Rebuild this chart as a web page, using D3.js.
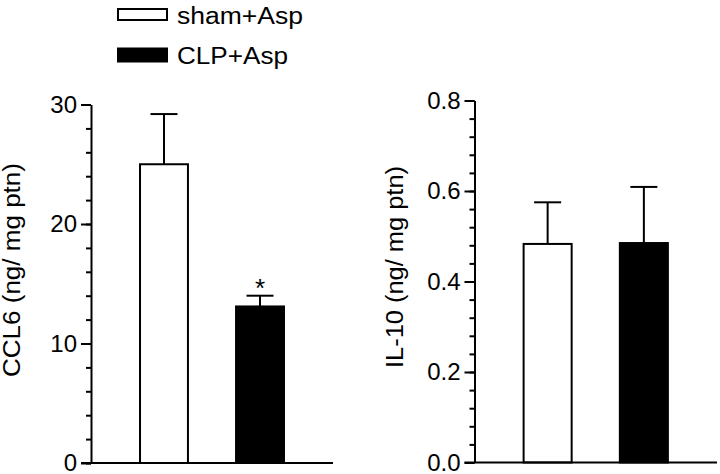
<!DOCTYPE html>
<html>
<head>
<meta charset="utf-8">
<script src="https://cdn.jsdelivr.net/npm/d3@7"></script>
<style>
  body { margin: 0; background: #fff; }
  svg { display: block; font-family: "Liberation Sans", Arial, Helvetica, sans-serif; }
</style>
</head>
<body>
<script>
// groups and values
const groups = ['sham+Asp', 'CLP+Asp'];
const fills = ['#fff', '#000'];

const ccl6Mean = [25.0, 13.1];
const ccl6Err = [4.2, 0.9];
const ccl6Ticks = [0, 10, 20, 30];
const ccl6Sig = ['', '*'];

const il10Mean = [0.483, 0.485];
const il10Err = [0.092, 0.124];
const il10Ticks = [0.0, 0.2, 0.4, 0.6, 0.8];

const width = 720, height = 474;

const svg = d3.select('body').append('svg')
    .attr('width', width)
    .attr('height', height)
    .attr('viewBox', [0, 0, width, height]);

// draws one panel: bars, error bars, axes
const panel = ({ means, errs, ticks, minorStep, fmt, xRange, yRange, label, labelX, labelY, labelLen, sig = [] }) => {
    const x = d3.scaleBand(groups, xRange).paddingInner(0.48).paddingOuter(0.5);
    const y = d3.scaleLinear([ticks[0], ticks[ticks.length - 1]], yRange);
    const data = groups.map((g, i) => ({ g, i, mean: means[i], err: errs[i] }));
    const g = svg.append('g');

    // error bars (drawn first, bars cover the lower part)
    const eb = g.append('g').attr('stroke', '#000').attr('stroke-width', 2);
    eb.selectAll('line.v').data(data).join('line')
        .attr('class', 'v')
        .attr('x1', d => x(d.g) + x.bandwidth() / 2)
        .attr('x2', d => x(d.g) + x.bandwidth() / 2)
        .attr('y1', d => y(d.mean))
        .attr('y2', d => y(d.mean + d.err));
    eb.selectAll('line.cap').data(data).join('line')
        .attr('class', 'cap')
        .attr('x1', d => x(d.g) + x.bandwidth() * 0.23)
        .attr('x2', d => x(d.g) + x.bandwidth() * 0.77)
        .attr('y1', d => y(d.mean + d.err))
        .attr('y2', d => y(d.mean + d.err));

    g.append('g').selectAll('rect').data(data).join('rect')
        .attr('x', d => x(d.g) + 1)
        .attr('y', d => y(d.mean))
        .attr('width', x.bandwidth() - 2)
        .attr('height', d => y(0) - y(d.mean))
        .attr('fill', d => fills[d.i])
        .attr('stroke', '#000')
        .attr('stroke-width', 2);

    g.append('g').selectAll('text').data(data.filter(d => sig[d.i])).join('text')
        .attr('x', d => x(d.g) + x.bandwidth() / 2)
        .attr('y', d => y(d.mean + d.err) + 1)
        .attr('text-anchor', 'middle')
        .attr('font-size', 26)
        .text(d => sig[d.i]);

    const axisX = xRange[0];

    // minor ticks
    const minor = d3.range(ticks[0], ticks[ticks.length - 1] + minorStep / 2, minorStep);
    g.append('g')
        .attr('transform', `translate(${axisX},0)`)
        .call(d3.axisLeft(y).tickValues(minor).tickSize(5).tickSizeOuter(0).tickFormat(''))
        .call(a => a.selectAll('line').attr('stroke-width', 2))
        .call(a => a.select('.domain').remove());

    // major ticks + labels
    g.append('g')
        .attr('transform', `translate(${axisX},0)`)
        .call(d3.axisLeft(y).tickValues(ticks).tickSize(10).tickSizeOuter(0).tickPadding(4).tickFormat(fmt))
        .call(a => a.selectAll('line').attr('stroke-width', 2))
        .call(a => a.select('.domain').attr('stroke-width', 2))
        .call(a => a.selectAll('text').attr('font-size', 24).attr('fill', '#000')
            .attr('font-family', '"Liberation Sans", Arial, sans-serif'));

    // baseline
    g.append('g')
        .attr('transform', `translate(0,${y(0)})`)
        .call(d3.axisBottom(x).tickSize(0).tickFormat(''))
        .call(a => a.select('.domain')
            .attr('d', `M${axisX - 10},0H${xRange[1]}`)
            .attr('stroke-width', 2));

    g.append('text')
        .attr('transform', `translate(${labelX},${labelY}) rotate(-90)`)
        .attr('text-anchor', 'middle')
        .attr('font-size', 23)
        .attr('textLength', labelLen)
        .attr('lengthAdjust', 'spacingAndGlyphs')
        .text(label);
};

panel({
    means: ccl6Mean, errs: ccl6Err, ticks: ccl6Ticks, minorStep: 2, fmt: d3.format('d'),
    xRange: [91, 333], yRange: [463, 104.5],
    label: 'CCL6 (ng/ mg ptn)', labelX: 20, labelY: 270, labelLen: 214, sig: ccl6Sig
});

panel({
    means: il10Mean, errs: il10Err, ticks: il10Ticks, minorStep: 0.04, fmt: d3.format('.1f'),
    xRange: [474.5, 717], yRange: [462.5, 100.5],
    label: 'IL-10 (ng/ mg ptn)', labelX: 403, labelY: 267, labelLen: 202
});

// legend
const legend = svg.append('g');
const legendY = [14.5, 55];
const legendLen = [126, 111];
legend.selectAll('rect').data(groups).join('rect')
    .attr('x', (d, i) => i === 0 ? 118 : 117)
    .attr('y', (d, i) => i === 0 ? legendY[i] - 5.5 : legendY[i] - 7.5)
    .attr('width', (d, i) => i === 0 ? 49 : 51)
    .attr('height', (d, i) => i === 0 ? 11 : 15)
    .attr('fill', (d, i) => fills[i])
    .attr('stroke', '#000')
    .attr('stroke-width', (d, i) => i === 0 ? 2 : 0);
legend.selectAll('text').data(groups).join('text')
    .attr('x', 177)
    .attr('y', (d, i) => legendY[i] + 9)
    .attr('font-size', 23)
    .attr('textLength', (d, i) => legendLen[i])
    .attr('lengthAdjust', 'spacingAndGlyphs')
    .text(d => d);
</script>
</body>
</html>
